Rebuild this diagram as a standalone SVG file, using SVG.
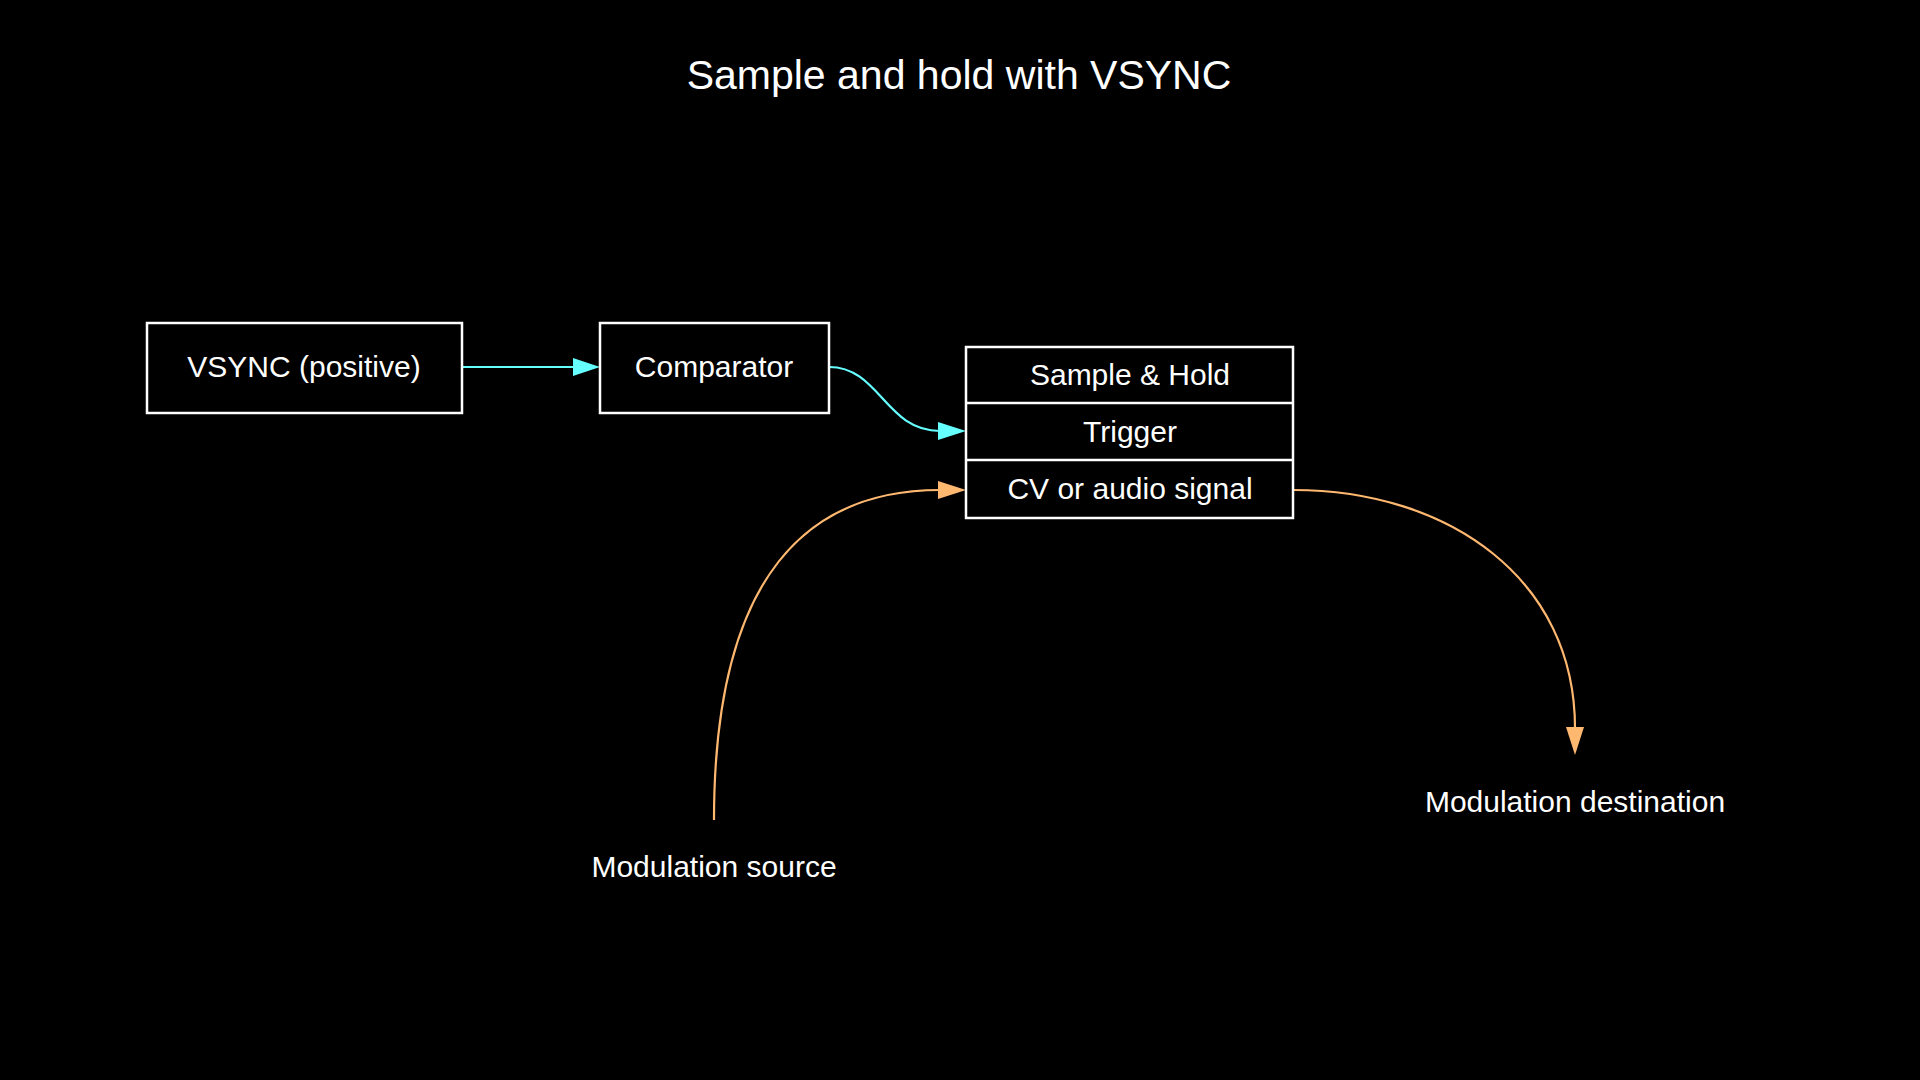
<svg xmlns="http://www.w3.org/2000/svg" width="1920" height="1080" viewBox="0 0 1920 1080">
<defs>
<style>
text{font-family:"Liberation Sans",Arial,sans-serif;fill:#fff;text-anchor:middle;dominant-baseline:central}
.box{fill:none;stroke:#fff;stroke-width:2.5}
.c{fill:none;stroke:#66ffff;stroke-width:2.2}
.o{fill:none;stroke:#ffb870;stroke-width:2.2}
</style>
<marker id="ac" markerWidth="10" markerHeight="8" refX="10" refY="4" orient="auto" markerUnits="userSpaceOnUse" viewBox="0 0 10 8"><path d="M0,0L10,4L0,8z" fill="#66ffff"/></marker>
<marker id="ao" markerWidth="10" markerHeight="8" refX="10" refY="4" orient="auto" markerUnits="userSpaceOnUse" viewBox="0 0 10 8"><path d="M0,0L10,4L0,8z" fill="#ffb870"/></marker>
</defs>
<rect width="1920" height="1080" fill="#000"/>
<text x="959" y="75" font-size="41">Sample and hold with VSYNC</text>
<g id="connectors">
<path class="c" d="M462,367L573,367" marker-end="url(#ac)" style="marker-end:none"/>
<path d="M573,358L600,367L573,376z" fill="#66ffff"/>
<path class="c" d="M829,367C880,367 885,431 940,431"/>
<path d="M938,422L966,431L938,440z" fill="#66ffff"/>
<path class="o" d="M714,820C714,600 790,490 940,490"/>
<path d="M938,481L966,490L938,499z" fill="#ffb870"/>
<path class="o" d="M1293,490C1450,490 1575,580 1575,728"/>
<path d="M1566,727L1575,755L1584,727z" fill="#ffb870"/>
</g>
<g id="vsync"><rect class="box" x="147" y="323" width="315" height="90"/><text x="304" y="366" font-size="30">VSYNC (positive)</text></g>
<g id="comparator"><rect class="box" x="600" y="323" width="229" height="90"/><text x="714" y="366" font-size="30">Comparator</text></g>
<g id="sh"><rect class="box" x="966" y="347" width="327" height="171"/>
<line class="box" x1="966" y1="403" x2="1293" y2="403"/><line class="box" x1="966" y1="460" x2="1293" y2="460"/>
<text x="1130" y="374" font-size="30">Sample &amp; Hold</text>
<text x="1130" y="431" font-size="30">Trigger</text>
<text x="1130" y="488" font-size="30">CV or audio signal</text></g>
<g id="src"><text x="714" y="866" font-size="30">Modulation source</text></g>
<g id="dst"><text x="1575" y="801" font-size="30">Modulation destination</text></g>
</svg>
